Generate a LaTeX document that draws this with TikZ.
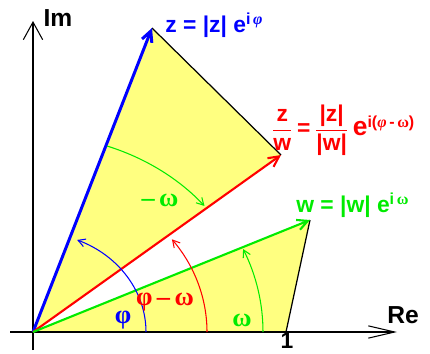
\documentclass[tikz,border=0pt]{standalone}
\usepackage{fontspec}
\setmainfont{Liberation Sans}
\newfontfamily\grk{Liberation Serif}
\usetikzlibrary{arrows.meta}

\definecolor{fillyellow}{RGB}{255,255,128}
\definecolor{vecgreen}{RGB}{0,235,0}

\tikzset{
  lbl/.style={font=\fontsize{13}{15}\selectfont\bfseries, inner sep=0pt},
  veca/.style={-{Straight Barb[length=6pt,width=6pt]}},
  arca/.style={line width=0.6pt, -{Straight Barb[length=4pt,width=4.5pt]}}
}

\begin{document}
\begin{tikzpicture}[x=0.02cm, y=0.02cm]
\useasboundingbox (0,0) rectangle (430,353);

% The points
\coordinate (O) at (33,21);
\coordinate (one) at (286,21);
\coordinate (w) at (310,133);
\coordinate (z) at (152,325);
\coordinate (zw) at (281,198);
\coordinate (reL) at (10,21);
\coordinate (reR) at (397,21);
\coordinate (imB) at (33,3);
\coordinate (imT) at (33,332);

% The triangles
\fill[fillyellow] (O) -- (one) -- (w) -- cycle;
\fill[fillyellow] (O) -- (zw) -- (z) -- cycle;
\draw[line width=0.7pt] (one) -- (w);
\draw[line width=0.7pt] (z) -- (zw);

% The axes
\draw[line width=0.6pt, -{Straight Barb[length=15pt,width=7pt]}] (reL) -- (reR);
\draw[line width=0.6pt, -{Straight Barb[length=10pt,width=11pt]}] (imB) -- (imT);
\node[lbl, font=\fontsize{14}{16}\selectfont\bfseries] (relbl) at (403,38) {Re};
\node[lbl, font=\fontsize{14}{16}\selectfont\bfseries] (imlbl) at (58,335) {Im};
\node[lbl] (onelbl) at (287,12) {1};

% The vectors
\draw[blue, line width=1.7pt, veca] (O) -- (z);
\draw[red, line width=1.2pt, veca] (O) -- (zw);
\draw[vecgreen, line width=1.2pt, veca] (O) -- (w);

% The angles
\draw[blue, arca] (146,21) arc[start angle=0, end angle=67, x radius=113, y radius=100];
\draw[red, arca] (207,21) arc[start angle=0, end angle=37, x radius=174, y radius=154];
\draw[vecgreen, arca] (263,21) arc[start angle=0, end angle=24, x radius=230, y radius=204];
\draw[vecgreen, arca] (107,207) arc[start angle=70.6, end angle=39.7, x radius=223, y radius=197];

% Angle labels
\node[lbl, blue] (phi) at (123,33) {\grk\fontsize{15}{17}\selectfont φ};
\node[lbl, red] (phiom) at (165,51) {\grk\fontsize{15}{17}\selectfont φ\,–\,ω};
\node[lbl, vecgreen] (om) at (242,33) {\grk\fontsize{15}{17}\selectfont ω};
\node[lbl, vecgreen] (mom) at (160,153) {\grk\fontsize{15}{17}\selectfont –\,ω};

% The vector labels
\node[lbl, blue, anchor=west] (zlbl) at (165,328) {z = |z| e\textsuperscript{i\,{\grk\itshape φ}}};
\node[lbl, vecgreen, anchor=west] (wlbl) at (296,148) {w = |w| e\textsuperscript{i\,{\grk ω}}};
\node[lbl, red, anchor=west] (zwlbl) at (271,223)
  {$\displaystyle\frac{\hbox{\bfseries z}}{\hbox{\bfseries w}}$\,=\,$\displaystyle\frac{\hbox{\bfseries |z|}}{\hbox{\bfseries |w|}}$\,{\fontsize{15}{17}\selectfont e}\textsuperscript{i({\grk\itshape φ}\,-\,{\grk ω})}};

\end{tikzpicture}
\end{document}
